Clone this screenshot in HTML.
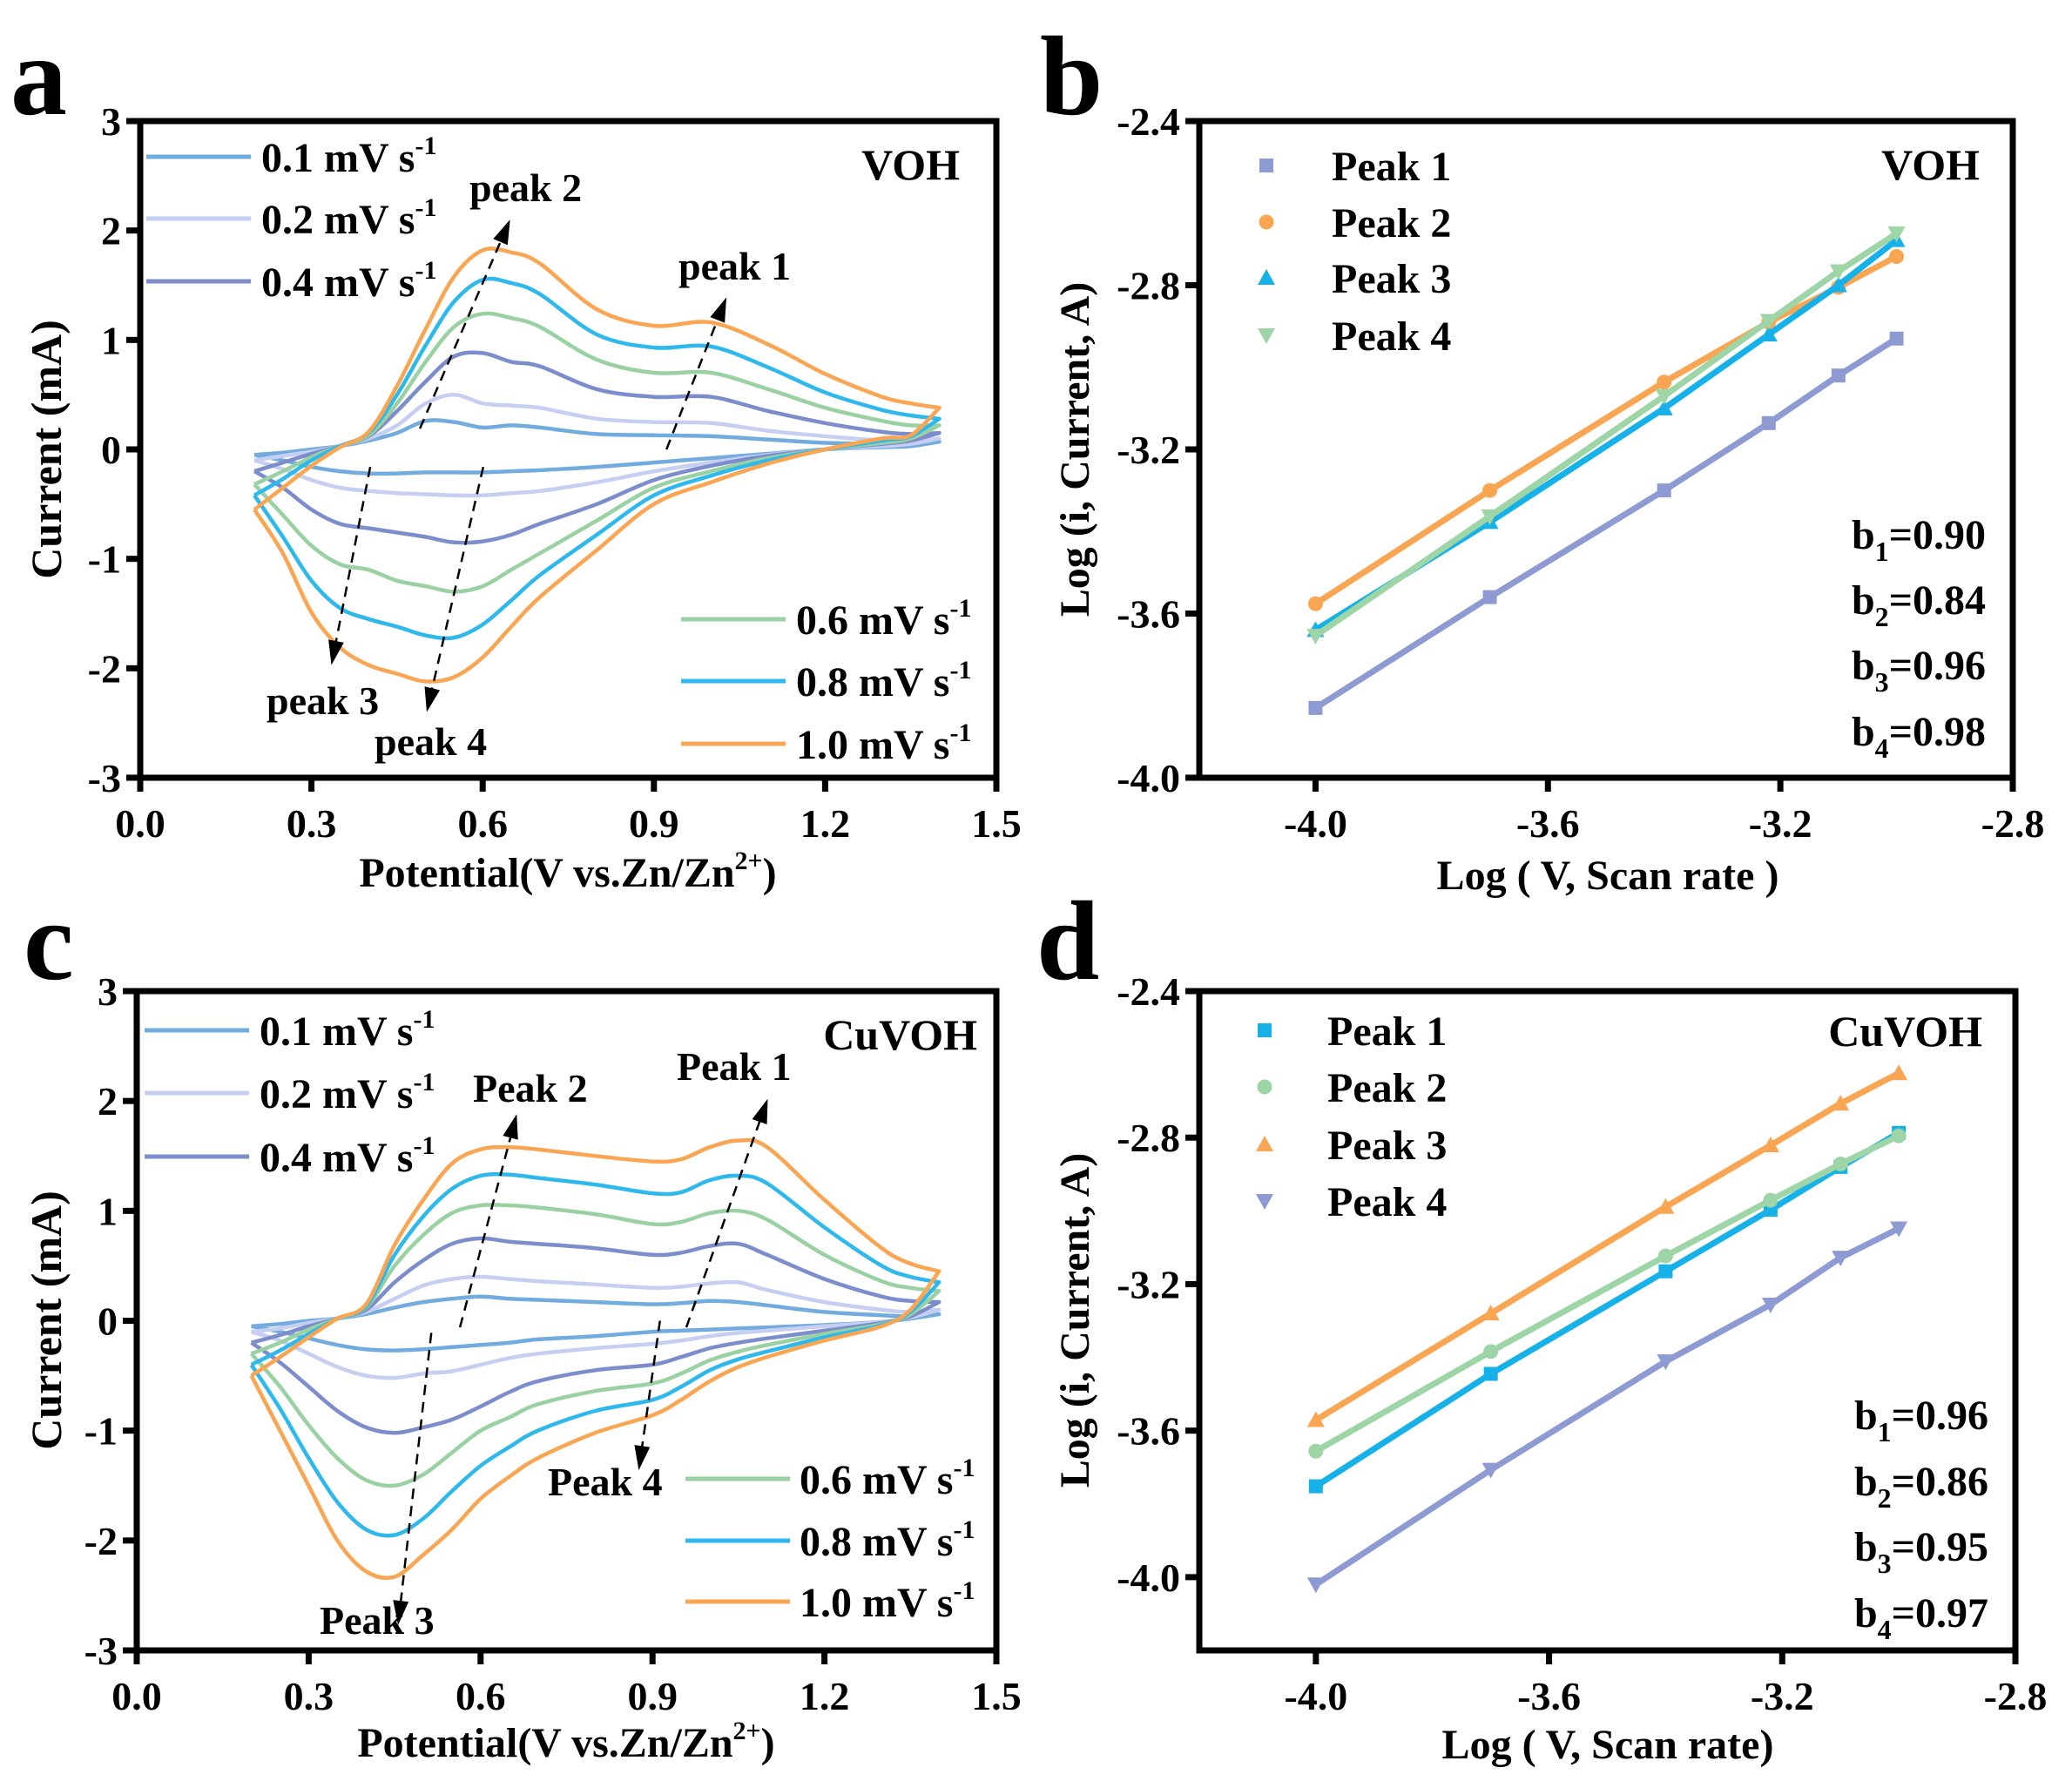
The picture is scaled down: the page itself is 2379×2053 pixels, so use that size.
<!DOCTYPE html>
<html><head><meta charset="utf-8"><style>
html,body{margin:0;padding:0;background:#fff;}
svg{display:block;}
text{font-family:"Liberation Serif",serif;font-weight:bold;fill:#000;}
</style></head><body>
<svg id="fig" width="2379" height="2053" viewBox="0 0 2379 2053" xmlns="http://www.w3.org/2000/svg"></svg>
<script>
// ---------- DATA ----------
const cvRates = ['0.1','0.2','0.4','0.6','0.8','1.0'];
const cvColors = ['#72acdf','#c6cff2','#7c8dcc','#9ad1a2','#2fb8ec','#f9a552'];
const potA = [0.2,0.25,0.3,0.35,0.4,0.45,0.5,0.55,0.6,0.65,0.7,0.8,0.9,1.0,1.1,1.2,1.3,1.35,1.4];
const aUp01 = [-0.05,-0.03,0.0,0.03,0.08,0.15,0.26,0.25,0.2,0.22,0.2,0.14,0.13,0.12,0.09,0.06,0.05,0.05,0.07];
const aUp02 = [-0.1,-0.06,-0.02,0.03,0.1,0.22,0.42,0.5,0.42,0.4,0.38,0.28,0.25,0.24,0.17,0.12,0.08,0.07,0.1];
const aUp04 = [-0.2,-0.12,-0.04,0.03,0.12,0.35,0.62,0.85,0.88,0.8,0.76,0.55,0.48,0.48,0.35,0.24,0.16,0.14,0.15];
const aUp06 = [-0.32,-0.2,-0.07,0.03,0.13,0.42,0.8,1.12,1.24,1.2,1.12,0.82,0.7,0.7,0.55,0.38,0.26,0.22,0.22];
const aUp08 = [-0.42,-0.27,-0.1,0.03,0.15,0.5,0.95,1.35,1.55,1.52,1.42,1.05,0.93,0.94,0.75,0.52,0.36,0.31,0.28];
const aUp10 = [-0.55,-0.35,-0.15,0.02,0.16,0.58,1.1,1.58,1.82,1.8,1.7,1.28,1.13,1.16,0.96,0.69,0.48,0.42,0.38];
const aDn01 = [-0.05,-0.1,-0.16,-0.2,-0.22,-0.22,-0.21,-0.21,-0.21,-0.2,-0.19,-0.16,-0.12,-0.08,-0.04,0.0,0.02,0.03,0.07];
const aDn02 = [-0.1,-0.18,-0.28,-0.35,-0.38,-0.4,-0.41,-0.42,-0.42,-0.4,-0.38,-0.3,-0.2,-0.12,-0.05,0.0,0.03,0.05,0.1];
const aDn04 = [-0.2,-0.35,-0.55,-0.68,-0.72,-0.76,-0.8,-0.85,-0.84,-0.78,-0.68,-0.5,-0.28,-0.15,-0.06,0.0,0.05,0.08,0.15];
const aDn06 = [-0.32,-0.6,-0.88,-1.05,-1.1,-1.2,-1.25,-1.3,-1.25,-1.1,-0.95,-0.65,-0.35,-0.2,-0.08,0.0,0.06,0.1,0.22];
const aDn08 = [-0.42,-0.8,-1.2,-1.45,-1.55,-1.62,-1.7,-1.72,-1.6,-1.38,-1.15,-0.78,-0.42,-0.24,-0.1,0.0,0.08,0.12,0.28];
const aDn10 = [-0.55,-0.95,-1.49,-1.81,-1.97,-2.05,-2.12,-2.08,-1.9,-1.62,-1.35,-0.92,-0.5,-0.3,-0.13,0.0,0.1,0.13,0.38];

const potC = [0.2,0.25,0.3,0.35,0.4,0.45,0.5,0.55,0.6,0.65,0.7,0.8,0.9,0.95,1.0,1.05,1.1,1.2,1.3,1.35,1.4];
const cUp01 = [-0.05,-0.03,0,0.02,0.06,0.12,0.17,0.2,0.22,0.2,0.19,0.17,0.15,0.16,0.18,0.17,0.14,0.08,0.05,0.04,0.06];
const cUp02 = [-0.1,-0.07,-0.02,0.02,0.08,0.2,0.32,0.38,0.4,0.38,0.36,0.33,0.3,0.31,0.34,0.35,0.28,0.17,0.1,0.08,0.1];
const cUp04 = [-0.2,-0.13,-0.05,0.02,0.1,0.35,0.55,0.7,0.75,0.72,0.7,0.66,0.6,0.62,0.68,0.7,0.6,0.38,0.22,0.18,0.17];
const cUp06 = [-0.3,-0.2,-0.08,0.02,0.12,0.5,0.78,0.98,1.05,1.05,1.03,0.97,0.88,0.9,0.98,1.0,0.92,0.6,0.36,0.3,0.27];
const cUp08 = [-0.4,-0.27,-0.12,0.02,0.13,0.6,0.95,1.2,1.32,1.33,1.3,1.24,1.16,1.17,1.28,1.32,1.25,0.85,0.5,0.4,0.35];
const cUp10 = [-0.5,-0.33,-0.15,0.02,0.15,0.69,1.1,1.43,1.56,1.58,1.56,1.5,1.45,1.47,1.58,1.64,1.58,1.1,0.66,0.52,0.45];
const cDn01 = [-0.05,-0.1,-0.16,-0.22,-0.26,-0.27,-0.26,-0.24,-0.22,-0.2,-0.17,-0.14,-0.1,-0.09,-0.08,-0.07,-0.06,-0.04,-0.01,0.02,0.06];
const cDn02 = [-0.1,-0.18,-0.3,-0.42,-0.5,-0.52,-0.48,-0.46,-0.4,-0.34,-0.3,-0.25,-0.21,-0.18,-0.14,-0.11,-0.09,-0.05,-0.01,0.03,0.1];
const cDn04 = [-0.2,-0.38,-0.6,-0.82,-0.97,-1.02,-0.97,-0.9,-0.78,-0.65,-0.55,-0.45,-0.4,-0.33,-0.25,-0.2,-0.16,-0.09,-0.02,0.04,0.17];
const cDn06 = [-0.3,-0.6,-0.95,-1.25,-1.45,-1.5,-1.4,-1.2,-1.0,-0.88,-0.76,-0.64,-0.57,-0.48,-0.36,-0.28,-0.22,-0.12,-0.03,0.06,0.27];
const cDn08 = [-0.4,-0.8,-1.25,-1.65,-1.9,-1.95,-1.8,-1.55,-1.32,-1.15,-1.0,-0.82,-0.72,-0.6,-0.45,-0.35,-0.28,-0.15,-0.04,0.08,0.35];
const cDn10 = [-0.5,-1.0,-1.5,-2.0,-2.28,-2.33,-2.13,-1.9,-1.62,-1.42,-1.25,-1.02,-0.86,-0.72,-0.55,-0.42,-0.33,-0.18,-0.05,0.1,0.45];

const logRate = [-4.0,-3.70,-3.40,-3.22,-3.10,-3.0];
const bP1 = [-3.83,-3.56,-3.30,-3.136,-3.02,-2.93];
const bP2 = [-3.576,-3.30,-3.036,-2.89,-2.805,-2.73];
const bP3 = [-3.64,-3.377,-3.10,-2.92,-2.80,-2.69];
const bP4 = [-3.654,-3.363,-3.07,-2.887,-2.766,-2.674];
const dP1 = [-3.752,-3.445,-3.165,-2.997,-2.88,-2.787];
const dP2 = [-3.656,-3.384,-3.123,-2.971,-2.872,-2.795];
const dP3 = [-3.571,-3.28,-2.989,-2.821,-2.707,-2.624];
const dP4 = [-4.02,-3.707,-3.411,-3.256,-3.128,-3.048];
const bSlopes = ['0.90','0.84','0.96','0.98'];
const dSlopes = ['0.96','0.86','0.95','0.97'];
const cvXTicks = ['0.0','0.3','0.6','0.9','1.2','1.5'];
const cvYTicks = ['3','2','1','0','-1','-2','-3'];
const logXTicks = ['-4.0','-3.6','-3.2','-2.8'];
const bYTicks = ['-2.4','-2.8','-3.2','-3.6','-4.0'];
const dYTicks = ['-2.4','-2.8','-3.2','-3.6','-4.0'];

// ---------- HELPERS ----------
const NS='http://www.w3.org/2000/svg';
const svg=document.getElementById('fig');
function mk(tag,attrs,parent){const e=document.createElementNS(NS,tag);for(const k in attrs)e.setAttribute(k,attrs[k]);(parent||svg).appendChild(e);return e;}
function txt(x,y,s,size,anchor,parent,name){const t=mk('text',{x:x,y:y,'font-size':size,'text-anchor':anchor||'start'},parent);t.textContent=s;


return t;}
function smooth(pts){let d='M'+pts[0][0]+','+pts[0][1];for(let i=0;i<pts.length-1;i++){const p0=pts[i-1]||pts[i],p1=pts[i],p2=pts[i+1],p3=pts[i+2]||p2;
const c1x=p1[0]+(p2[0]-p0[0])/6,c1y=p1[1]+(p2[1]-p0[1])/6,c2x=p2[0]-(p3[0]-p1[0])/6,c2y=p2[1]-(p3[1]-p1[1])/6;
d+=' C'+c1x.toFixed(1)+','+c1y.toFixed(1)+' '+c2x.toFixed(1)+','+c2y.toFixed(1)+' '+p2[0].toFixed(1)+','+p2[1].toFixed(1);}return d;}

function axes(g,L,T,R,B,xmin,xmax,ymin,ymax,xt,yt){
  const sx=v=>L+(v-xmin)/(xmax-xmin)*(R-L), sy=v=>B-(v-ymin)/(ymax-ymin)*(B-T);
  const f=mk('rect',{x:L,y:T,width:R-L,height:B-T,fill:'none',stroke:'#000','stroke-width':7},g);
  
  
  const xa=mk('g',{},g);
  
  
  xt.forEach(s=>{const v=parseFloat(s),x=sx(v);mk('line',{x1:x,y1:B,x2:x,y2:B+16,stroke:'#000','stroke-width':7},xa);txt(x,B+68,s,46,'middle',xa,'x-tick-label');});
  const ya=mk('g',{},g);
  
  
  yt.forEach(s=>{const v=parseFloat(s),y=sy(v);mk('line',{x1:L-16,y1:y,x2:L,y2:y,stroke:'#000','stroke-width':7},ya);txt(L-22,y+16,s,46,'end',ya,'y-tick-label');});
  return {sx,sy};
}
function cvPanel(id,L,T,R,B,pot,ups,dns,arrows){
  const g=mk('g',{});
  
  
  const a=axes(g,L,T,R,B,0,1.5,-3,3,cvXTicks,cvYTicks);
  for(let k=0;k<6;k++){
    const pts=pot.map((p,i)=>[a.sx(p),a.sy(ups[k][i])]);
    const dn=pot.map((p,i)=>[a.sx(p),a.sy(dns[k][i])]).reverse();
    const path=mk('path',{d:smooth(pts)+' '+smooth(dn).replace('M','L'),fill:'none',stroke:cvColors[k],'stroke-width':4.5,'stroke-linejoin':'round'},g);
    
    
  }
  arrows.forEach(ar=>{
    const x1=a.sx(ar[0]),y1=a.sy(ar[1]),x2=a.sx(ar[2]),y2=a.sy(ar[3]);
    const ang=Math.atan2(y2-y1,x2-x1),len=Math.hypot(x2-x1,y2-y1);
    const ag=mk('g',{},g);
    
    
    const ex=x1+(len-24)*Math.cos(ang),ey=y1+(len-24)*Math.sin(ang);
    mk('line',{x1:x1,y1:y1,x2:ex,y2:ey,stroke:'#000','stroke-width':2.5,'stroke-dasharray':'12,8'},ag);
    const px=-Math.sin(ang),py=Math.cos(ang);
    const bx=x2-28*Math.cos(ang),by=y2-28*Math.sin(ang);
    mk('polygon',{points:x2+','+y2+' '+(bx+9*px)+','+(by+9*py)+' '+(bx-9*px)+','+(by-9*py),fill:'#000'},ag);
  });
  return {g,a};
}
function legendCV(g,x,ys,k0,x2){
  for(let i=0;i<3;i++){const k=k0+i;
    const lg=mk('g',{},g);
    
    
    mk('line',{x1:x,y1:ys[i],x2:x+120,y2:ys[i],stroke:cvColors[k],'stroke-width':5},lg);
    const t=txt(x2,ys[i]+17,cvRates[k]+' mV s',48,'start',lg,'legend-label');
    const s=mk('tspan',{dy:-20,'font-size':30},t);s.textContent='-1';
  }
}
function supLabel(g,x,y,main,sup,tail,size,anchor,name){const t=txt(x,y,main,size,anchor,g,name);const s=mk('tspan',{dy:-20,'font-size':30},t);s.textContent=sup;if(tail){const r=mk('tspan',{dy:20},t);r.textContent=tail;}return t;}
function marker(g,type,x,y,c){
  if(type==='sq') return mk('rect',{x:x-8,y:y-8,width:16,height:16,fill:c},g);
  if(type==='ci') return mk('circle',{cx:x,cy:y,r:8.5,fill:c},g);
  if(type==='up') return mk('polygon',{points:x+','+(y-10)+' '+(x-10)+','+(y+8)+' '+(x+10)+','+(y+8),fill:c},g);
  return mk('polygon',{points:x+','+(y+10)+' '+(x-10)+','+(y-8)+' '+(x+10)+','+(y-8),fill:c},g);
}
function logPanel(id,L,T,R,B,ymin,yticks,series,colors,legY,legX,textX,slopes,slopeYs,title,titleY){
  const g=mk('g',{});
  
  
  const a=axes(g,L,T,R,B,-4.2,-2.8,ymin,-2.4,logXTicks,yticks);
  const types=['sq','ci','up','dn'];
  series.forEach((s,k)=>{
    const sg=mk('g',{},g);
    
    
    const pts=logRate.map((x,i)=>a.sx(x)+','+a.sy(s[i])).join(' ');
    mk('polyline',{points:pts,fill:'none',stroke:colors[k],'stroke-width':7,'stroke-linejoin':'round'},sg);
    logRate.forEach((x,i)=>{const m=marker(sg,types[k],a.sx(x),a.sy(s[i]),colors[k]);
      
      });
    const lg=mk('g',{},g);
    
    
    marker(lg,types[k],legX,legY[k],colors[k]);
    txt(textX,legY[k]+17,'Peak '+(k+1),48,'start',lg,'legend-label');
  });
  slopes.forEach((s,k)=>{const t=txt(R-31,slopeYs[k],'b',48,'end',g,'slope-label');
    t.textContent='';const b=mk('tspan',{},t);b.textContent='b';const sub=mk('tspan',{dy:14,'font-size':32},t);sub.textContent=String(k+1);const r=mk('tspan',{dy:-14},t);r.textContent='='+s;});
  txt(R-38,titleY,title,50,'end',g,'sample-title');
  return g;
}

// ---------- PANEL A ----------
let pa=cvPanel('panel-a-cv-voh',161,139,1144,893,potA,[aUp01,aUp02,aUp04,aUp06,aUp08,aUp10],[aDn01,aDn02,aDn04,aDn06,aDn08,aDn10],
 [[0.49,0.19,0.648,2.1],[0.922,0,1.027,1.39],[0.403,-0.16,0.335,-1.97],[0.601,-0.16,0.502,-2.4]]);
legendCV(pa.g,168,[180,251,323],0,300);
legendCV(pa.g,782,[711,782,854],3,914);
txt(1102,206,'VOH',50,'end',pa.g,'sample-title');
txt(539,231,'peak 2',46,'start',pa.g,'peak-2-label');
txt(779,321,'peak 1',46,'start',pa.g,'peak-1-label');
txt(306,820,'peak 3',46,'start',pa.g,'peak-3-label');
txt(430,867,'peak 4',46,'start',pa.g,'peak-4-label');
supLabel(pa.g,652,1018,'Potential(V vs.Zn/Zn','2+',')',48,'middle','x-axis-title');
let yt=txt(0,0,'Current (mA)',50,'middle',pa.g,'y-axis-title');yt.setAttribute('transform','translate(70,516) rotate(-90)');
txt(12,131,'a',130,'start',pa.g,'panel-letter');

// ---------- PANEL B ----------
let pb=logPanel('panel-b-log-voh',1377,139,2311,893,-4.0,bYTicks,[bP1,bP2,bP3,bP4],['#8e9bd3','#f9a552','#16b1e8','#9ed5a6'],
 [190,255,319,385],1454,1529,bSlopes,[630,705,780,856],'VOH',206);
txt(1846,1021,'Log ( V, Scan rate )',48,'middle',pb,'x-axis-title');
yt=txt(0,0,'Log (i, Current, A)',48,'middle',pb,'y-axis-title');yt.setAttribute('transform','translate(1250,516) rotate(-90)');
txt(1194,131,'b',130,'start',pb,'panel-letter');

// ---------- PANEL C ----------
let pc=cvPanel('panel-c-cv-cuvoh',157,1138,1144,1895,potC,[cUp01,cUp02,cUp04,cUp06,cUp08,cUp10],[cDn01,cDn02,cDn04,cDn06,cDn08,cDn10],
 [[0.564,-0.06,0.663,1.88],[0.959,-0.06,1.101,2.02],[0.514,-0.11,0.456,-2.77],[0.913,0,0.876,-1.36]]);
legendCV(pc.g,166,[1183,1255,1328],0,298);
legendCV(pc.g,787,[1698,1769,1839],3,918);
txt(1122,1205,'CuVOH',50,'end',pc.g,'sample-title');
txt(543,1265,'Peak 2',46,'start',pc.g,'peak-2-label');
txt(777,1240,'Peak 1',46,'start',pc.g,'peak-1-label');
txt(367,1876,'Peak 3',46,'start',pc.g,'peak-3-label');
txt(629,1717,'Peak 4',46,'start',pc.g,'peak-4-label');
supLabel(pc.g,650,2017,'Potential(V vs.Zn/Zn','2+',')',48,'middle','x-axis-title');
yt=txt(0,0,'Current (mA)',50,'middle',pc.g,'y-axis-title');yt.setAttribute('transform','translate(70,1516) rotate(-90)');
txt(27,1124,'c',130,'start',pc.g,'panel-letter');

// ---------- PANEL D ----------
let pd=logPanel('panel-d-log-cuvoh',1377,1138,2314,1895,-4.2,dYTicks,[dP1,dP2,dP3,dP4],['#16b1e8','#9ed5a6','#f9a552','#8e9bd3'],
 [1183,1248,1314,1379],1452,1524,dSlopes,[1641,1717,1792,1868],'CuVOH',1201);
txt(1846,2019,'Log ( V, Scan rate)',48,'middle',pd,'x-axis-title');
yt=txt(0,0,'Log (i, Current, A)',48,'middle',pd,'y-axis-title');yt.setAttribute('transform','translate(1250,1516) rotate(-90)');
txt(1190,1124,'d',130,'start',pd,'panel-letter');
</script>
</body></html>
